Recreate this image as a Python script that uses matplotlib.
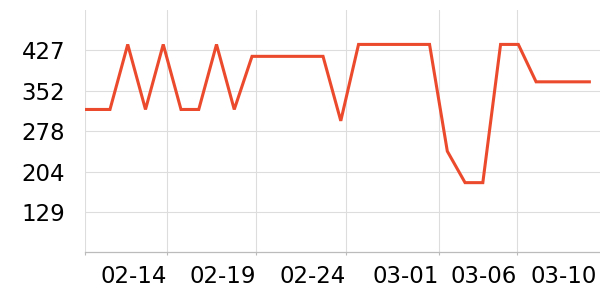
import matplotlib
matplotlib.use("Agg")
import matplotlib.pyplot as plt

# point positions (one step per day, first reading is earlier in the day)
x_pos = [-0.39] + list(range(1, 29))
values = [318, 318, 438, 318, 438, 318, 318, 438, 318, 416,
          416, 416, 416, 416, 297, 438, 438, 438, 438, 438,
          241, 183, 183, 438, 438, 369, 369, 369, 369]

x_tick_pos = [-0.39, 4.23, 9.24, 14.28, 19.55, 23.94, 28.43]
x_tick_labels = ["", "02-14", "02-19", "02-24", "03-01", "03-06", "03-10"]

y_tick_pos = [129, 203.5, 278, 352.5, 427]
y_tick_labels = ["129", "204", "278", "352", "427"]

fig = plt.figure(figsize=(6, 3), dpi=100)
ax = fig.add_axes([85.3 / 600, 47.7 / 300, 1 - 85.3 / 600, 242.3 / 300])

ax.plot(x_pos, values, color="#ec4a2c", linewidth=2.2, solid_joinstyle="miter")

ax.set_xlim(-0.39, 28.6)
ax.set_ylim(54.5, 501.5)

ax.set_xticks(x_tick_pos)
ax.set_xticklabels(x_tick_labels, ha="right")
ax.set_yticks(y_tick_pos)
ax.set_yticklabels(y_tick_labels)

ax.tick_params(axis="x", length=2.5, width=0.8, color="#bbbbbb", pad=7, labelsize=16.5)
ax.tick_params(axis="y", length=0, pad=14.5, labelsize=16.5)

ax.grid(True, color="#dddddd", linewidth=0.8)
ax.set_axisbelow(True)
# last label sits at the right edge: no grid line, no tick mark
ax.xaxis.get_gridlines()[-1].set_visible(False)
ax.xaxis.get_major_ticks()[-1].tick1line.set_visible(False)

for side in ["top", "right", "left"]:
    ax.spines[side].set_visible(False)
ax.spines["bottom"].set_color("#bbbbbb")
ax.spines["bottom"].set_linewidth(0.9)

plt.savefig("out.png", dpi=100)
